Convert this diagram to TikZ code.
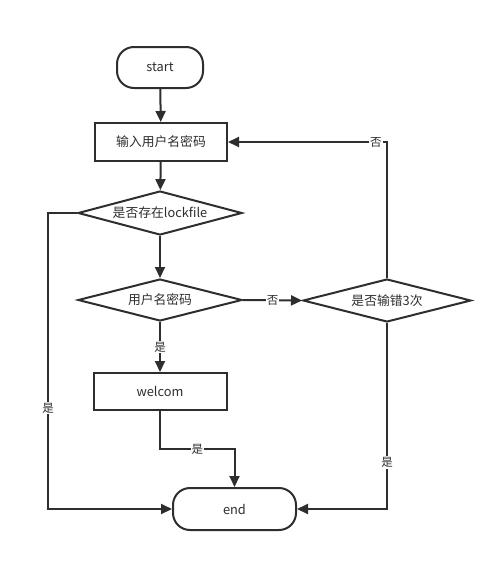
\documentclass[tikz,border=0pt]{standalone}
\usepackage{fontspec}
\setmainfont{Noto Sans CJK SC}
\usetikzlibrary{shapes.geometric,arrows.meta}
\definecolor{ink}{HTML}{2E2E2E}
\begin{document}
\begin{tikzpicture}[x=1pt,y=-1pt,
  base/.style={draw=ink,line width=2pt,text=ink,font=\fontsize{12.8}{15}\selectfont,inner sep=0pt},
  term/.style={base,rectangle,rounded corners=17pt},
  proc/.style={base,rectangle},
  decide/.style={base,diamond,aspect=3.7},
  arr/.style={draw=ink,line width=2pt,-{Triangle[length=11pt,width=10pt]}},
  lbl/.style={fill=white,text=ink,inner sep=1pt,font=\fontsize{11.5}{13}\selectfont}]
\useasboundingbox[fill=white] (0,0) rectangle (503,562);

% nodes
\node[term,minimum width=86pt,minimum height=41pt] (start) at (160,67.5) {start};
\node[proc,minimum width=132pt,minimum height=38pt] (input) at (161,142) {输入用户名密码};
\node[decide,minimum width=164pt,minimum height=44pt] (lock) at (160,213) {是否存在lockfile};
\node[decide,minimum width=164pt,minimum height=42pt] (check) at (160,300) {用户名密码};
\node[decide,minimum width=168pt,minimum height=43pt] (tries) at (387,300.5) {是否输错3次};
\node[proc,minimum width=133pt,minimum height=37pt] (welcome) at (160,391.5) {welcom};
\node[term,minimum width=123pt,minimum height=42pt] (end) at (234.5,509) {end};

% routing points
\coordinate (leftrail) at (48,0);
\coordinate (joinrow) at (0,449);

% connectors
\draw[arr] (start) -- (input);
\draw[arr] (input) -- (lock);
\draw[arr] (lock) -- (check);
\draw[arr] (lock.west) -- (lock.west -| leftrail)
  -- node[lbl,pos=0.66]{是} (leftrail |- end.west) -- (end.west);
\draw[arr] (check.east) -- node[lbl]{否} (tries.west);
\draw[arr] (check.south) -- node[lbl]{是} (welcome.north);
\draw[arr] (welcome.south) -- (welcome.south |- joinrow)
  -- node[lbl]{是} (end.north |- joinrow) -- (end.north);
\draw[arr] (tries.north) -- (tries.north |- input.east)
  -- node[lbl,pos=0.07]{否} (input.east);
\draw[arr] (tries.south) -- node[lbl,pos=0.75]{是} (tries.south |- end.east) -- (end.east);
\end{tikzpicture}
\end{document}
